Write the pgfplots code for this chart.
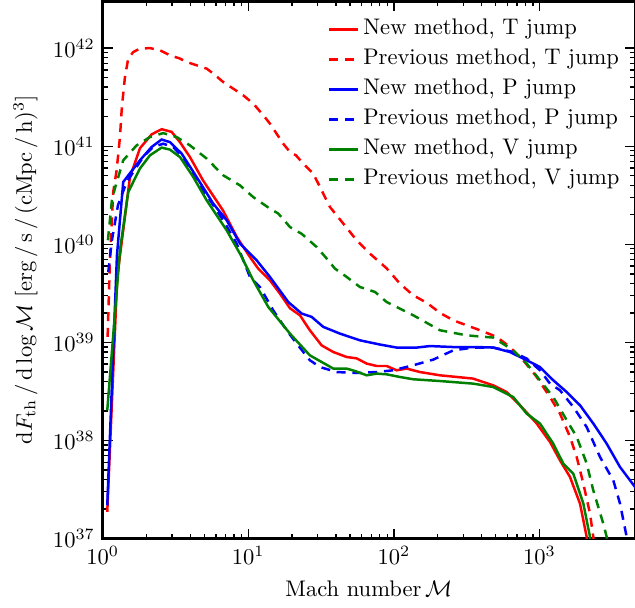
\documentclass[border=0pt]{standalone}
\usepackage{pgfplots}
\pgfplotsset{compat=1.18}
\definecolor{mplgreen}{rgb}{0,0.5,0}
\begin{document}
\begin{tikzpicture}
\begin{axis}[
  scale only axis, width=236pt, height=238.2pt,
  xmode=log, ymode=log,
  xmin=1, xmax=4529, ymin=1e37, ymax=3e42,
  axis line style={line width=1.2pt},
  tick align=inside,
  major tick length=4.4pt, minor tick length=2.2pt,
  every tick/.style={black, line width=0.6pt},
  xtick={1,10,100,1000},
  ytick={1e37,1e38,1e39,1e40,1e41,1e42},
  xlabel={Mach number\,$\mathcal{M}$},
  ylabel={$\mathrm{d}F_{\mathrm{th}}\,/\,\mathrm{d}\log\mathcal{M}\;[\mathrm{erg\,/\,s\,/\,(cMpc\,/\,h)^3}]$},
  legend style={draw=none, fill=none, at={(0.41,0.985)}, anchor=north west,
    nodes={text height=6.9pt, text depth=2pt, inner ysep=2.2pt}},
  legend cell align=left,
  legend image code/.code={\draw[#1] (0pt,0pt) -- (12.5pt,0pt);},
  every axis plot/.append style={line width=1.1pt},
]
\addplot[red] coordinates {
(1.076,1.87e37) (1.260,4.61e39) (1.540,4.82e40) (1.804,9.53e40) (2.170,1.32e41)
(2.542,1.49e41) (2.978,1.40e41) (3.396,1.10e41) (3.978,7.76e40) (4.886,4.49e40)
(6.702,2.22e40) (8.365,1.18e40) (10.27,7.43e39) (11.71,5.65e39) (14.09,4.30e39)
(16.51,3.14e39) (19.34,2.23e39) (22.65,1.89e39) (26.5,1.33e39) (31.9,9.33e38)
(38.4,7.98e38) (47.4,7.10e38) (55.5,6.88e38) (65.1,6.08e38) (76.2,5.75e38)
(89.2,5.75e38) (104.5,5.20e38) (122.4,5.41e38) (151,4.99e38) (207.4,4.62e38)
(349.3,4.28e38) (479.2,3.66e38) (595.3,3.12e38) (734.6,2.29e38) (957,1.49e38)
(1181,9.66e37) (1383,6.28e37) (1620,4.25e37) (1897,2.28e37) (2110,1.04e37) (2150,5e36)
};
\addlegendentry{New method, T jump}
\addplot[red, dash pattern=on 4pt off 3pt] coordinates {
(1.082,1.14e39) (1.122,6.87e39) (1.182,3.41e40) (1.248,5.68e40) (1.315,1.24e41)
(1.351,2.32e41) (1.385,3.44e41) (1.423,5.07e41) (1.499,7.82e41) (1.623,9.12e41)
(1.804,9.89e41) (2.113,1.00e42) (2.474,9.50e41) (2.899,8.45e41) (3.396,7.82e41)
(3.775,7.22e41) (4.42,6.68e41) (5.18,6.18e41) (5.75,5.50e41) (6.73,4.51e41)
(7.89,3.86e41) (9.24,3.30e41) (10.82,2.72e41) (12.68,2.07e41) (14.09,1.70e41)
(15.67,1.34e41) (17.39,1.06e41) (19.34,8.73e40) (21.27,8.07e40) (23.86,6.65e40)
(27.95,5.26e40) (31.1,3.84e40) (36.4,2.40e40) (44.9,1.63e40) (55.5,1.10e40)
(68.5,8.04e39) (89.2,5.69e39) (110.1,3.97e39) (135.9,3.02e39) (168,2.54e39)
(207.4,2.00e39) (255.9,1.68e39) (390,1.33e39) (508,1.14e39) (627,8.97e38)
(774,6.58e38) (957,4.44e38) (1181,2.77e38) (1383,1.88e38) (1620,1.09e38)
(1801,6.79e37) (2000,3.64e37) (2223,1.80e37) (2342,1.04e37) (2405,5e36)
};
\addlegendentry{Previous method, T jump}
\addplot[blue] coordinates {
(1.076,2.18e37) (1.254,7.73e39) (1.385,4.32e40) (1.804,7.18e40) (2.170,9.82e40)
(2.542,1.17e41) (2.899,1.10e41) (3.488,8.41e40) (4.42,4.85e40) (5.75,2.60e40)
(7.105,1.76e40) (8.77,1.02e40) (11.42,6.87e39) (14.09,4.65e39) (18.83,2.58e39)
(23.27,1.97e39) (27.26,1.82e39) (32.74,1.44e39) (42.6,1.23e39) (58.5,1.05e39)
(80.3,9.51e38) (104.5,8.86e38) (143.4,8.86e38) (177,9.18e38) (255.9,8.97e38)
(370.5,8.97e38) (481.6,8.86e38) (627,7.98e38) (817,6.58e38) (1008,5.61e38)
(1244,4.11e38) (1538,3.12e38) (1897,2.29e38) (2342,1.49e38) (2894,9.29e37)
(3572,5.37e37) (4529,3.36e37) (5741,2.18e37)
};
\addlegendentry{New method, P jump}
\addplot[blue, dash pattern=on 4pt off 3pt] coordinates {
(1.093,5.19e39) (1.158,1.10e40) (1.274,2.50e40) (1.462,4.32e40) (1.900,7.76e40)
(2.226,9.82e40) (2.607,1.06e41) (3.054,9.82e40) (3.674,7.18e40) (4.42,4.32e40)
(5.46,2.81e40) (6.73,1.76e40) (8.32,1.02e40) (10.27,4.65e39) (12.03,3.67e39)
(14.85,2.12e39) (18.35,1.33e39) (21.5,9.73e38) (26.5,6.58e38) (31.1,5.61e38)
(40.5,4.99e38) (55.5,4.88e38) (76.2,4.99e38) (99.1,5.20e38) (135.9,5.85e38)
(186.5,6.68e38) (255.9,8.30e38) (351,8.86e38) (481.6,8.86e38) (661,7.98e38)
(817,6.84e38) (1008,5.20e38) (1181,3.80e38) (1383,3.25e38) (1707,2.20e38)
(2110,1.37e38) (2604,6.79e37) (3213,3.93e37) (3572,2.28e37) (3971,1.04e37) (4053,5e36)
};
\addlegendentry{Previous method, P jump}
\addplot[mplgreen] coordinates {
(1.076,2.03e38) (1.315,8.69e39) (1.499,3.41e40) (1.804,5.92e40) (2.113,8.07e40)
(2.542,9.68e40) (2.899,9.23e40) (3.396,7.76e40) (4.192,4.85e40) (5.18,2.81e40)
(7.105,1.39e40) (8.77,8.04e39) (10.82,4.30e39) (13.72,2.30e39) (19.34,1.23e39)
(26.5,7.38e38) (38.4,5.41e38) (47.4,5.41e38) (54.1,5.11e38) (65.1,4.62e38)
(76.2,4.81e38) (89.2,4.73e38) (110.1,4.44e38) (135.9,4.21e38) (207.4,4.04e38)
(351,3.80e38) (481.6,3.51e38) (661,2.77e38) (817,1.88e38) (1008,1.49e38)
(1244,9.29e37) (1457,5.82e37) (1707,4.60e37) (2000,2.28e37) (2223,1.04e37) (2294,5e36)
};
\addlegendentry{New method, V jump}
\addplot[mplgreen, dash pattern=on 4pt off 3pt] coordinates {
(1.087,1.10e40) (1.158,2.81e40) (1.215,3.72e40) (1.385,7.18e40) (1.712,1.02e41)
(2.113,1.24e41) (2.607,1.36e41) (3.223,1.24e41) (3.978,1.02e41) (5.18,7.48e40)
(6.73,5.05e40) (8.77,3.99e40) (10.82,3.03e40) (14.09,2.31e40) (16.07,2.06e40)
(19.34,1.50e40) (23.27,1.28e40) (29.5,9.38e39) (34.6,7.15e39) (39.4,5.65e39)
(47.4,4.65e39) (58.5,3.67e39) (74.2,3.27e39) (89.2,2.58e39) (110.1,2.21e39)
(135.9,1.89e39) (207.4,1.33e39) (316,1.18e39) (481.6,1.12e39) (661,8.30e38)
(817,6.08e38) (1008,4.11e38) (1244,2.77e38) (1538,1.61e38) (1801,1.09e38)
(2110,5.82e37) (2342,3.10e37) (2743,1.42e37) (2894,1.04e37) (2955,5e36)
};
\addlegendentry{Previous method, V jump}
\end{axis}
\pgfresetboundingbox
\path (current axis.south west) ++(-45.5pt,-30.5pt) coordinate (bl);
\path[use as bounding box] (bl) rectangle ([yshift=0.6pt]current axis.north east);
\end{tikzpicture}
\end{document}
